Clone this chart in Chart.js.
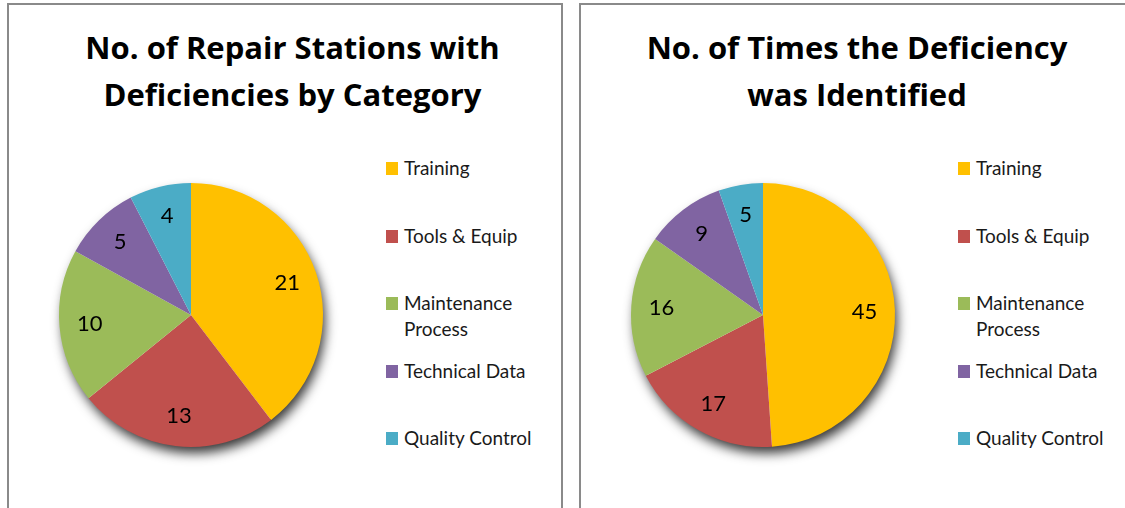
<!DOCTYPE html>
<html lang="en">
<head>
  <meta charset="UTF-8">
  <title>Repair Station Deficiencies</title>
  <script src="https://cdn.jsdelivr.net/npm/chart.js"></script>
  <style>
    body {
      margin: 0;
      background: #fff;
      font-family: 'Lato', 'Open Sans', Arial, sans-serif;
      color: #111;
      overflow: hidden;
    }
    .panel {
      position: absolute;
      top: 3px;
      width: 552px;
      height: 520px;
      border: 2px solid #8a8a8a;
      background: #fff;
    }
    .chart-title {
      position: absolute;
      left: 0;
      top: 19px;
      width: 552px;
      text-align: center;
      font-family: 'Open Sans', 'Lato', Arial, sans-serif;
      font-weight: 700;
      font-size: 31px;
      line-height: 47px;
      color: #000;
    }
    .pie-box {
      position: absolute;
      left: 22px;
      top: 150px;
      width: 320px;
      height: 320px;
    }
    .legend {
      position: absolute;
      left: 377px;
      top: 150px;
      margin: 0;
      padding: 0;
      list-style: none;
    }
    .legend li {
      display: flex;
      align-items: flex-start;
      height: 67.5px;
      font-size: 19px;
      line-height: 26px;
      color: #1a1a1a;
    }
    .legend .swatch {
      flex: none;
      width: 12px;
      height: 13px;
      margin-top: 7px;
      margin-right: 6px;
    }
    .legend .txt {
      max-width: 145px;
    }
  </style>
</head>
<body>
  <div class="panel" style="left:7px;">
    <div class="chart-title" style="padding-left:15px; width:537px;">No. of Repair Stations with<br>Deficiencies by Category</div>
    <div class="pie-box"><canvas id="stations-chart" width="320" height="320"></canvas></div>
    <ul class="legend" id="stations-legend"></ul>
  </div>
  <div class="panel" style="left:579px;">
    <div class="chart-title">No. of Times the Deficiency<br>was Identified</div>
    <div class="pie-box"><canvas id="times-chart" width="320" height="320"></canvas></div>
    <ul class="legend" id="times-legend"></ul>
  </div>
  <script>
    // categories shared by both pies
    const categories = ['Training', 'Tools & Equip', 'Maintenance Process', 'Technical Data', 'Quality Control'];
    // repair stations with deficiencies, per category
    const stationCounts = [21, 13, 10, 5, 4];
    // how many times each deficiency was identified
    const timesIdentified = [45, 17, 16, 9, 5];

    const sliceColors = ['#FFC000', '#C0504D', '#9BBB59', '#8064A2', '#4BACC6'];

    // soft drop shadow under the whole pie (drawn once, before the slices)
    const pieShadow = {
      id: 'pieShadow',
      beforeDatasetsDraw(chart) {
        const arc = chart.getDatasetMeta(0).data[0];
        if (!arc) return;
        const ctx = chart.ctx;
        ctx.save();
        ctx.shadowColor = 'rgba(0,0,0,0.8)';
        ctx.shadowBlur = 12;
        ctx.shadowOffsetX = 3;
        ctx.shadowOffsetY = 7;
        ctx.beginPath();
        ctx.arc(arc.x, arc.y, arc.outerRadius - 1, 0, Math.PI * 2);
        ctx.fillStyle = '#fff';
        ctx.fill();
        ctx.restore();
      }
    };

    // value labels inside each slice
    const sliceLabels = {
      id: 'sliceLabels',
      afterDatasetsDraw(chart) {
        const ctx = chart.ctx;
        const values = chart.data.datasets[0].data;
        ctx.save();
        ctx.font = '22px Lato, "Open Sans", sans-serif';
        ctx.fillStyle = '#000';
        ctx.textAlign = 'center';
        ctx.textBaseline = 'middle';
        chart.getDatasetMeta(0).data.forEach((arc, i) => {
          const mid = (arc.startAngle + arc.endAngle) / 2;
          const r = arc.outerRadius * 0.77;
          ctx.fillText(String(values[i]), arc.x + Math.cos(mid) * r, arc.y + Math.sin(mid) * r);
        });
        ctx.restore();
      }
    };

    function makePie(canvasId, legendId, values) {
      const ctx = document.getElementById(canvasId).getContext('2d');
      const chart = new Chart(ctx, {
        type: 'pie',
        data: {
          labels: categories,
          datasets: [{
            data: values,
            backgroundColor: sliceColors,
            borderWidth: 0,
            hoverOffset: 0
          }]
        },
        options: {
          responsive: false,
          animation: false,
          layout: { padding: 28 },
          plugins: {
            legend: { display: false },
            tooltip: { enabled: false },
            title: { display: false }
          }
        },
        plugins: [pieShadow, sliceLabels]
      });

      // legend as html, built from the chart's own legend items
      const list = document.getElementById(legendId);
      const items = Chart.overrides.pie.plugins.legend.labels.generateLabels(chart);
      items.forEach(item => {
        const li = document.createElement('li');
        const sw = document.createElement('span');
        sw.className = 'swatch';
        sw.style.background = item.fillStyle;
        const tx = document.createElement('span');
        tx.className = 'txt';
        tx.textContent = item.text;
        li.appendChild(sw);
        li.appendChild(tx);
        list.appendChild(li);
      });
      return chart;
    }

    makePie('stations-chart', 'stations-legend', stationCounts);
    makePie('times-chart', 'times-legend', timesIdentified);
  </script>
</body>
</html>
